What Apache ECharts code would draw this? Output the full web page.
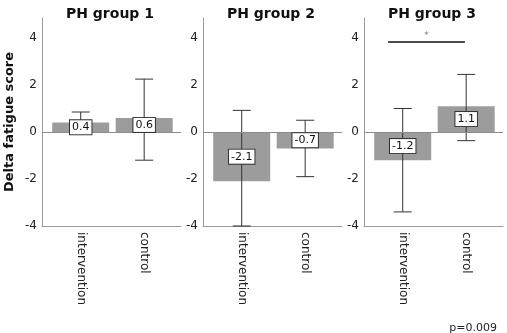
<!DOCTYPE html>
<html>
<head>
<meta charset="utf-8">
<script src="https://cdn.jsdelivr.net/npm/echarts@6/dist/echarts.min.js"></script>
<style>html,body{margin:0;padding:0;background:#fff}#c{width:507px;height:333px}</style>
</head>
<body>
<div id="c"></div>
<script>
const categories = ['intervention', 'control'];
const groups = ['PH group 1', 'PH group 2', 'PH group 3'];
const means = [[0.4, 0.6], [-2.1, -0.7], [-1.2, 1.1]];
const lowerCI = [[-0.1, -1.2], [-4.0, -1.9], [-3.4, -0.37]];
const upperCI = [[0.85, 2.25], [0.92, 0.5], [1.0, 2.45]];
const yTicks = [-4, -2, 0, 2, 4];
const sigBracket = { panel: 2, from: -0.23, to: 0.98, level: 3.85, mark: '*' };
const pText = 'p=0.009';
const yName = 'Delta fatigue score';

const FONT = 'DejaVu Sans';
const grids = [], xAxes = [], yAxes = [], series = [], titles = [];
for (let i = 0; i < 3; i++) {
  grids.push({ left: 42 + 161 * i, width: 139, top: 18, height: 208 });
  titles.push({ text: groups[i], left: 105 + 161 * i, top: 2, textAlign: 'center',
    textStyle: { fontFamily: FONT, fontSize: 14, fontWeight: 'bold', color: '#111' } });
  xAxes.push({ type: 'value', gridIndex: i, min: -0.61, max: 1.58,
    axisLine: { show: true, onZero: false, lineStyle: { color: '#999', width: 1 } },
    axisTick: { show: false }, splitLine: { show: false },
    axisLabel: { customValues: [0, 1], formatter: v => categories[Math.round(v)], rotate: -90,
      fontFamily: FONT, fontSize: 12, color: '#222', margin: 6 } });
  yAxes.push({ type: 'value', gridIndex: i, min: -4, max: 4.85,
    name: i === 0 ? yName : '', nameLocation: 'middle', nameGap: 26,
    nameTextStyle: { fontFamily: FONT, fontSize: 13, fontWeight: 'bold', color: '#111' },
    axisLine: { show: true, onZero: false, lineStyle: { color: '#999', width: 1 } },
    axisTick: { show: false }, splitLine: { show: false },
    axisLabel: { customValues: yTicks, fontFamily: FONT, fontSize: 12, color: '#222', margin: 5 } });
  const bar = {
    type: 'bar', xAxisIndex: i, yAxisIndex: i, barWidth: 57, z: 2,
    data: means[i].map((v, j) => [j, v]),
    itemStyle: { color: '#9c9c9c' },
    markLine: { silent: true, symbol: 'none', label: { show: false },
      lineStyle: { color: '#8c8c8c', type: 'solid', width: 1 }, data: [{ yAxis: 0 }] }
  };
  series.push(bar);
  series.push({
    type: 'custom', xAxisIndex: i, yAxisIndex: i, z: 3,
    data: means[i].map((v, j) => [j, lowerCI[i][j], upperCI[i][j]]),
    renderItem: (params, api) => {
      const lo = api.coord([api.value(0), api.value(1)]);
      const hi = api.coord([api.value(0), api.value(2)]);
      const s = { stroke: '#333', lineWidth: 1 };
      const c = 9;
      return { type: 'group', children: [
        { type: 'line', shape: { x1: lo[0], y1: lo[1], x2: hi[0], y2: hi[1] }, style: s },
        { type: 'line', shape: { x1: lo[0] - c, y1: lo[1], x2: lo[0] + c, y2: lo[1] }, style: s },
        { type: 'line', shape: { x1: hi[0] - c, y1: hi[1], x2: hi[0] + c, y2: hi[1] }, style: s }
      ] };
    }
  });
  series.push({
    type: 'scatter', xAxisIndex: i, yAxisIndex: i, z: 5, symbolSize: 1,
    itemStyle: { color: 'rgba(0,0,0,0)', opacity: 1 },
    emphasis: { disabled: true },
    data: means[i].map((v, j) => [j, v / 2, v]),
    label: { show: true, position: 'inside', formatter: p => p.value[2].toFixed(1),
      fontFamily: FONT, fontSize: 11, color: '#111', backgroundColor: '#fff',
      borderColor: '#333', borderWidth: 1, padding: [2, 2, 1, 2] }
  });
}
// significance bracket
series.push({
  type: 'line', xAxisIndex: sigBracket.panel, yAxisIndex: sigBracket.panel, data: [], z: 6,
  markLine: { silent: true, symbol: 'none',
    lineStyle: { color: '#111', type: 'solid', width: 1.5 },
    label: { show: true, position: 'middle', formatter: sigBracket.mark, color: '#777',
      fontFamily: FONT, fontSize: 9, distance: 1 },
    data: [[{ coord: [sigBracket.from, sigBracket.level] }, { coord: [sigBracket.to, sigBracket.level] }]] }
});
titles.push({ text: pText, right: 5, top: 318,
  textStyle: { fontFamily: FONT, fontSize: 11, fontWeight: 'normal', color: '#222' } });

const chart = echarts.init(document.getElementById('c'), null, { renderer: 'canvas' });
chart.setOption({ animation: false, backgroundColor: '#fff', title: titles,
  grid: grids, xAxis: xAxes, yAxis: yAxes, series: series });
</script>
</body>
</html>
